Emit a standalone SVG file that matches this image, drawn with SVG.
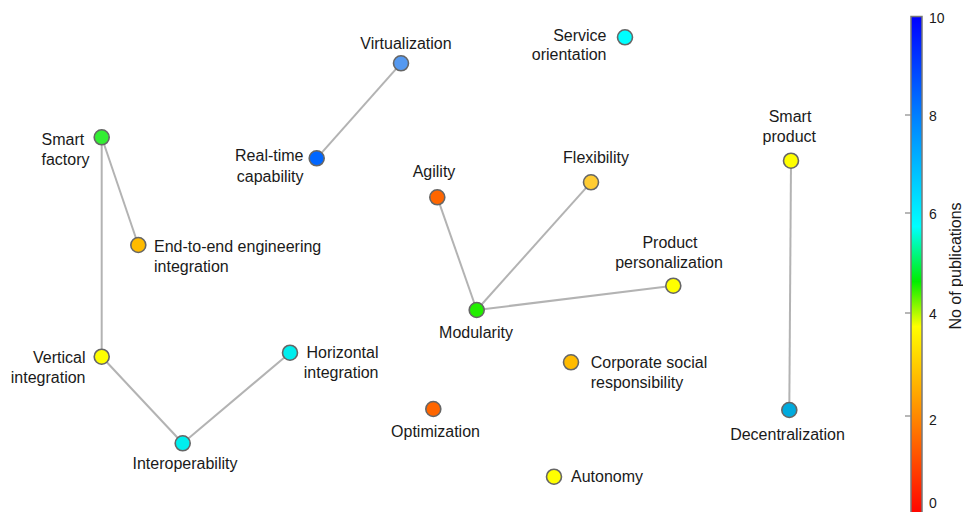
<svg xmlns="http://www.w3.org/2000/svg" width="963" height="512" viewBox="0 0 963 512">
<style>
text{font-family:"Liberation Sans",Arial,sans-serif;font-size:16px;fill:#1a1a1a}
.n{stroke:#666;stroke-width:1.6}
.e{stroke:#b3b3b3;stroke-width:2;fill:none}
.m{text-anchor:middle}
.r{text-anchor:end}
.cb{font-size:14px}
.tk{stroke:#888;stroke-width:1.2}
</style>
<defs>
<linearGradient id="jet" x1="0" y1="0" x2="0" y2="1">
<stop offset="0" stop-color="#0000ff"/>
<stop offset="0.2" stop-color="#0080ff"/>
<stop offset="0.42" stop-color="#00ffff"/>
<stop offset="0.53" stop-color="#00ee00"/>
<stop offset="0.62" stop-color="#ffff00"/>
<stop offset="0.8" stop-color="#ff8800"/>
<stop offset="1" stop-color="#ff0000"/>
</linearGradient>
</defs>
<rect width="963" height="512" fill="#fff"/>
<g id="connectors">
<line class="e" x1="401" y1="63.3" x2="316.7" y2="158.3"/>
<line class="e" x1="101.7" y1="137.3" x2="138.3" y2="245"/>
<line class="e" x1="101.7" y1="137.3" x2="101.7" y2="356.7"/>
<line class="e" x1="101.7" y1="356.7" x2="182.7" y2="443.3"/>
<line class="e" x1="182.7" y1="443.3" x2="290" y2="352.7"/>
<line class="e" x1="437.3" y1="197.3" x2="476.7" y2="310"/>
<line class="e" x1="591" y1="182.3" x2="476.7" y2="310"/>
<line class="e" x1="673.3" y1="285.7" x2="476.7" y2="310"/>
<line class="e" x1="791" y1="160.7" x2="789.3" y2="410"/>
</g>
<g id="virtualization"><circle class="n" cx="401" cy="63.3" r="7.5" fill="#5599f0"/><text class="m" x="406" y="48.5">Virtualization</text></g>
<g id="realtime"><circle class="n" cx="316.7" cy="158.3" r="7.5" fill="#0066ff"/><text class="r" x="303.5" y="160.7">Real-time</text><text class="r" x="303.5" y="181.7">capability</text></g>
<g id="service"><circle class="n" cx="625" cy="37.3" r="7.5" fill="#00ffff"/><text class="r" x="606.5" y="40.7">Service</text><text class="r" x="606.5" y="60">orientation</text></g>
<g id="smartfactory"><circle class="n" cx="101.7" cy="137.3" r="7.5" fill="#33ee33"/><text x="41.5" y="145">Smart</text><text x="41.5" y="165">factory</text></g>
<g id="endtoend"><circle class="n" cx="138.3" cy="245" r="7.5" fill="#ffbb00"/><text x="154" y="251.7">End-to-end engineering</text><text x="154" y="271.7">integration</text></g>
<g id="vertical"><circle class="n" cx="101.7" cy="356.7" r="7.5" fill="#ffff00"/><text class="r" x="85.5" y="363.3">Vertical</text><text class="r" x="85.5" y="383.3">integration</text></g>
<g id="horizontal"><circle class="n" cx="290" cy="352.7" r="7.5" fill="#00eeee"/><text class="r" x="378.5" y="358.3">Horizontal</text><text class="r" x="378.5" y="377.7">integration</text></g>
<g id="interoperability"><circle class="n" cx="182.7" cy="443.3" r="7.5" fill="#00eeee"/><text class="m" x="185" y="469.3">Interoperability</text></g>
<g id="agility"><circle class="n" cx="437.3" cy="197.3" r="7.5" fill="#ff6600"/><text class="m" x="434" y="176.7">Agility</text></g>
<g id="flexibility"><circle class="n" cx="591" cy="182.3" r="7.5" fill="#ffcc33"/><text class="m" x="596" y="163.3">Flexibility</text></g>
<g id="modularity"><circle class="n" cx="476.7" cy="310" r="7.5" fill="#22ee00"/><text class="m" x="476" y="337.5">Modularity</text></g>
<g id="personalization"><circle class="n" cx="673.3" cy="285.7" r="7.5" fill="#ffff00"/><text class="m" x="670" y="248.3">Product</text><text class="m" x="669" y="268.3">personalization</text></g>
<g id="csr"><circle class="n" cx="571" cy="362.3" r="7.5" fill="#ffbb00"/><text x="590.7" y="368.3">Corporate social</text><text x="590.7" y="388.3">responsibility</text></g>
<g id="optimization"><circle class="n" cx="433.3" cy="409" r="7.5" fill="#ff6600"/><text class="m" x="435.5" y="436.7">Optimization</text></g>
<g id="autonomy"><circle class="n" cx="554" cy="476.7" r="7.5" fill="#ffff00"/><text x="571" y="481.7">Autonomy</text></g>
<g id="smartproduct"><circle class="n" cx="791" cy="160.7" r="7.5" fill="#ffff00"/><text class="m" x="790" y="121.7">Smart</text><text class="m" x="789.3" y="141.7">product</text></g>
<g id="decentralization"><circle class="n" cx="789.3" cy="410" r="7.5" fill="#00aadd"/><text class="m" x="787.5" y="440">Decentralization</text></g>
<g id="colorbar">
<rect x="911" y="16.5" width="11" height="500" fill="url(#jet)" stroke="#777" stroke-width="1.5"/>
<line class="tk" x1="905" y1="115" x2="911" y2="115"/>
<line class="tk" x1="905" y1="213" x2="911" y2="213"/>
<line class="tk" x1="905" y1="313" x2="911" y2="313"/>
<line class="tk" x1="905" y1="416" x2="911" y2="416"/>
<text class="cb" x="929" y="23">10</text>
<text class="cb" x="929" y="120.5">8</text>
<text class="cb" x="929" y="218.5">6</text>
<text class="cb" x="929" y="319">4</text>
<text class="cb" x="929" y="424.5">2</text>
<text class="cb" x="929" y="507.5">0</text>
<text class="m" x="0" y="0" transform="translate(961 266) rotate(-90)" style="font-size:16px">No of publications</text>
</g>
</svg>
